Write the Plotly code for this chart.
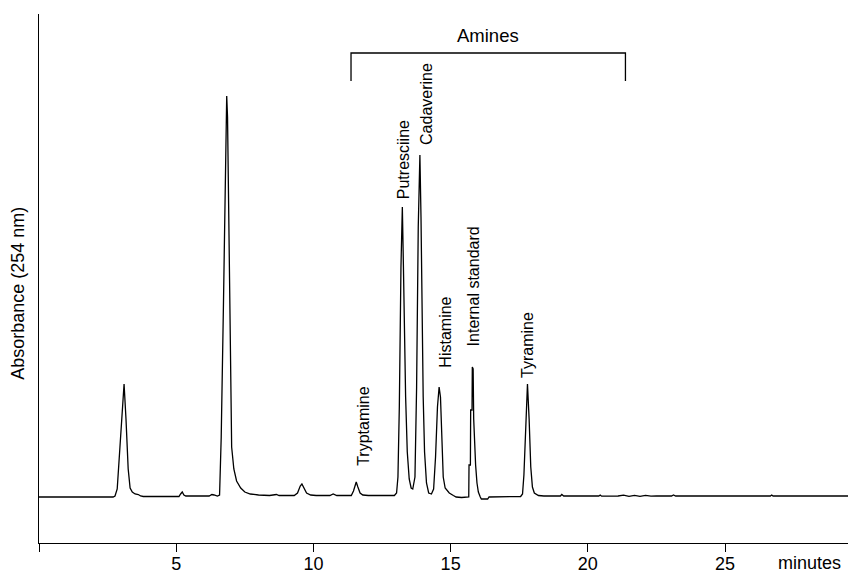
import plotly.graph_objects as go

# ---- data (time in minutes, absorbance in arbitrary units, baseline = 0) ----
retention_time = [
    0.0, 2.70, 2.77, 2.85, 2.95, 3.05, 3.10, 3.17, 3.25, 3.32, 3.40, 3.50, 3.62, 3.70, 3.80,
    4.50, 5.10, 5.16, 5.22, 5.28, 5.35, 6.20, 6.30, 6.38, 6.50, 6.58, 6.64, 6.72, 6.80, 6.84,
    6.87, 6.92, 6.97, 7.02, 7.10, 7.20, 7.35, 7.50, 7.70, 8.00, 8.40, 8.65, 8.75, 9.30, 9.42,
    9.52, 9.58, 9.65, 9.75, 9.90, 10.10, 10.60, 10.72, 10.85, 11.38, 11.46, 11.52, 11.56, 11.62, 11.70,
    11.80, 12.00, 12.95, 13.03, 13.08, 13.13, 13.19, 13.24, 13.28, 13.32, 13.36, 13.42, 13.49, 13.56, 13.62,
    13.70, 13.76, 13.82, 13.88, 13.92, 13.96, 14.00, 14.05, 14.12, 14.20, 14.30, 14.38, 14.45, 14.52, 14.58,
    14.63, 14.68, 14.73, 14.80, 14.95, 15.10, 15.20, 15.40, 15.62, 15.66, 15.67, 15.72, 15.73, 15.78, 15.79,
    15.82, 15.84, 15.88, 15.91, 15.96, 16.01, 16.08, 16.12, 16.35, 16.40, 17.55, 17.62, 17.67, 17.73, 17.80,
    17.86, 17.92, 17.98, 18.05, 18.20, 18.40, 19.00, 19.05, 19.12, 20.40, 20.45, 20.50, 21.10, 21.30, 21.50,
    21.70, 21.90, 22.10, 22.30, 22.50, 23.05, 23.12, 23.20, 26.65, 26.70, 26.75, 29.50,
]
absorbance = [
    0, 0, 1, 8, 50, 100, 113, 78, 28, 9, 5, 3, 2.5, 1, 0.5,
    0.5, 0.5, 3, 5, 2, 1, 1, 2.5, 2, 1, 2, 60, 190, 340, 401,
    380, 250, 110, 50, 28, 16, 9, 5, 3, 2, 1.5, 2.5, 1.5, 1.5, 4,
    11, 13, 9, 4, 2, 1.5, 1.5, 3, 1.5, 1.5, 6, 13, 15, 10, 4,
    2, 1.5, 1.5, 4, 20, 90, 230, 290, 230, 150, 100, 45, 18, 9, 8,
    20, 110, 270, 342, 280, 170, 100, 45, 14, 4, 3, 8, 40, 90, 110,
    100, 55, 20, 9, 4, 1.5, 0, -0.5, -0.5, 0, 32, 32, 87, 87, 130,
    128, 78, 45, 32, 14, 5, 0, -2, -2, 0, 0.5, 3, 22, 70, 113,
    78, 30, 10, 4, 1.5, 1, 1, 2.5, 1, 1, 2, 0.8, 1, 1.8, 0.6,
    1.6, 0.7, 1.7, 0.8, 1.2, 1, 2, 1, 1, 2, 1, 1,
]

# labelled amine peaks
peak_names = ["Tryptamine", "Putresciine", "Cadaverine", "Histamine", "Internal standard", "Tyramine"]
peak_label_time = [11.80, 13.29, 14.10, 14.80, 15.83, 17.78]
peak_label_height = [29, 296, 350, 127, 149, 117]

# bracket marking the amine region
amine_bracket_time = [11.37, 21.37]
amine_bracket_height = [416, 444]
amine_group_label = "Amines"

tick_values = [0, 5, 10, 15, 20, 25]
tick_labels = ["", "5", "10", "15", "20", "25"]

FONT = "Liberation Sans, Arial, sans-serif"

fig = go.Figure()
fig.add_trace(go.Scatter(
    x=retention_time, y=absorbance, mode="lines",
    line=dict(color="black", width=1.3), hoverinfo="skip", showlegend=False,
))

# bracket
t0, t1 = amine_bracket_time
h0, h1 = amine_bracket_height
fig.add_trace(go.Scatter(
    x=[t0, t0, t1, t1], y=[h0, h1, h1, h0], mode="lines",
    line=dict(color="black", width=1.3), hoverinfo="skip", showlegend=False, cliponaxis=False,
))

annotations = []
for name, t, h in zip(peak_names, peak_label_time, peak_label_height):
    annotations.append(dict(
        x=t, y=h, xref="x", yref="y", text=name, textangle=-90, showarrow=False,
        xanchor="center", yanchor="bottom", font=dict(family=FONT, size=16, color="black"),
    ))
annotations.append(dict(
    x=(t0 + t1) / 2, y=h1, xref="x", yref="y", text=amine_group_label, showarrow=False,
    xanchor="center", yanchor="bottom", yshift=5, font=dict(family=FONT, size=18.5, color="black"),
))
annotations.append(dict(
    x=0.953, y=-0.038, xref="paper", yref="paper", text="minutes", showarrow=False,
    xanchor="center", yanchor="middle", font=dict(family=FONT, size=18, color="black"),
))
annotations.append(dict(
    x=-0.026, y=0.473, xref="paper", yref="paper", text="Absorbance (254 nm)", textangle=-90,
    showarrow=False, xanchor="center", yanchor="middle", font=dict(family=FONT, size=18, color="black"),
))

fig.update_layout(
    width=848, height=579,
    margin=dict(l=39, r=0, t=14, b=36),
    paper_bgcolor="white", plot_bgcolor="white",
    font=dict(family=FONT, size=18, color="black"),
    annotations=annotations,
    xaxis=dict(
        range=[0, 29.48], showgrid=False, zeroline=False, showline=True, linecolor="black", linewidth=1.3,
        ticks="outside", ticklen=8, tickwidth=1.3, tickcolor="black", ticklabelstandoff=-4,
        tickvals=tick_values, ticktext=tick_labels, tickfont=dict(family=FONT, size=18, color="black"),
    ),
    yaxis=dict(
        range=[-46, 483], showgrid=False, zeroline=False, showline=True, linecolor="black", linewidth=1.3,
        ticks="", showticklabels=False,
    ),
)

fig.write_html(
    "out.html",
    config={"displayModeBar": False},
    post_script="document.body.style.margin='0';document.body.style.padding='0';",
)
